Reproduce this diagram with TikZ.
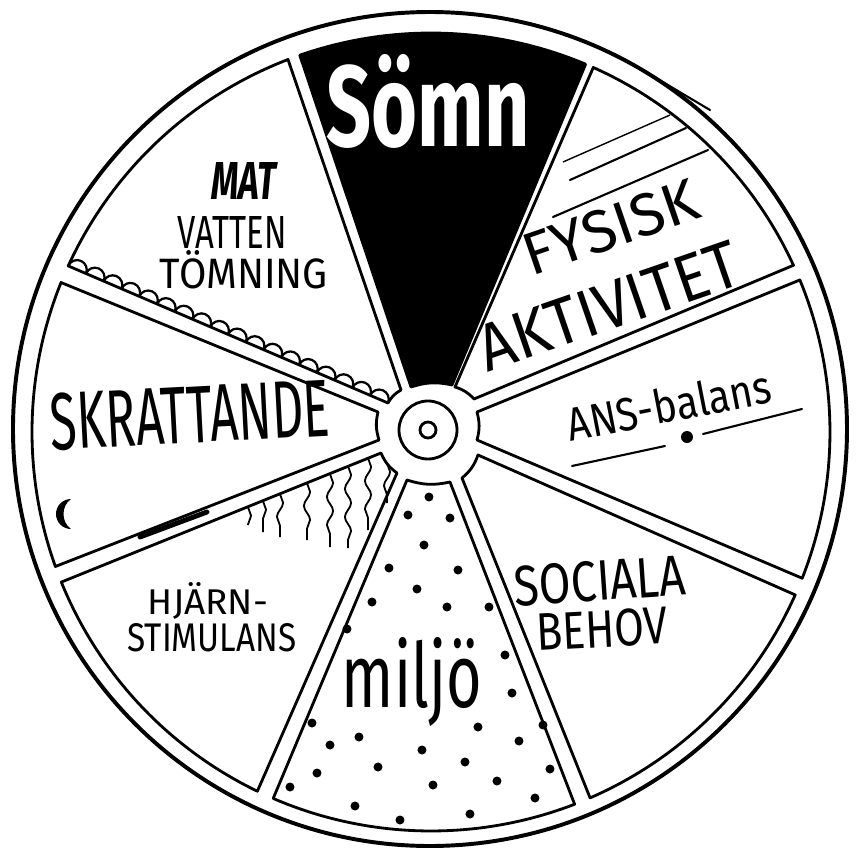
\documentclass[tikz,border=0pt]{standalone}
\usepackage{fontspec}
\setmainfont{Fira Sans}
\usepackage{graphicx}
\usetikzlibrary{calc, decorations.pathmorphing}
\tikzset{
  rimline/.style={line width=2.8pt},
  seg/.style={draw, line width=2pt, line join=round},
  hubline/.style={line width=2pt},
  label/.style={inner sep=0pt, align=center},
  bump/.style={line width=1.6pt},
  wave/.style={line width=1.3pt, decorate, decoration={snake, segment length=20pt, amplitude=2.2pt}},
  stroke/.style={line width=1.5pt, line cap=round}
}
\newcommand{\lbl}[3]{\resizebox{#1}{#2}{#3}}

\begin{document}
\begin{tikzpicture}[x=0.25mm, y=0.25mm]
  \path[fill=white, use as bounding box] (-428,-430) rectangle (428,430);
  \coordinate (rimc) at (3,-2);
  % rim
  \draw[rimline] (2,1) circle[radius=417];
  \draw[stroke] (223,355) -- (282,320);
  % segments, counter-clockwise from the right
  \draw[seg] ($(rimc)+(-21.5:399)$) arc[start angle=-21.5, end angle=22.4, radius=399] -- (49,18) to[bend left=15] (49,-10) -- cycle;
  \draw[seg] ($(rimc)+(24.7:399)$) arc[start angle=24.7, end angle=66, radius=399] -- (27,43) to[bend left=15] (46,31) -- cycle;
  \draw[seg, fill=black] ($(rimc)+(67.2:399)$) arc[start angle=67.2, end angle=109.2, radius=399] -- (-17,43) to[bend left=15] (24,45) -- cycle;
  \draw[seg] ($(rimc)+(111:399)$) arc[start angle=111, end angle=155.4, radius=399] -- (-40,27) to[bend left=15] (-27,40) -- cycle;
  \draw[seg] ($(rimc)+(158:399)$) arc[start angle=158, end angle=199.7, radius=399] -- (-49,-10) to[bend left=15] (-50,18) -- cycle;
  \draw[seg] ($(rimc)+(202.1:399)$) arc[start angle=202.1, end angle=244.2, radius=399] -- (-31,-43) to[bend left=15] (-47,-23) -- cycle;
  \draw[seg] ($(rimc)+(246.7:399)$) arc[start angle=246.7, end angle=291.1, radius=399] -- (22,-52) to[bend left=15] (-21,-50) -- cycle;
  \draw[seg] ($(rimc)+(293.5:399)$) arc[start angle=293.5, end angle=335.9, radius=399] -- (50,-25) to[bend left=15] (34,-48) -- cycle;
  % hub
  \draw[hubline] (0,0) circle[radius=29];
  \draw[hubline] (0,0) circle[radius=8];

  % scallops under MAT
  \coordinate (matA) at ($(rimc)+(155.4:399)$);
  \coordinate (matB) at (-40,27);
  \foreach \k in {0,...,17}
    \draw[bump] ($(matA)!\k/18!(matB)$) arc[start angle=156.8, end angle=-23.2, radius=9.66];

  % lines in FYSISK
  \draw[line width=1pt] (135,268) -- (242,315);
  \draw[stroke] (142,250) -- (258,302);
  \draw[stroke] (125,213) -- (280,280);

  % balance under ANS
  \draw[stroke] (144,-36) -- (237,-16);
  \fill (259,-7) circle[radius=6];
  \draw[stroke] (275,-4) -- (374,21);

  % waves in HJARN
  \foreach \x/\t/\b in {-180/-77/-95, -165/-71/-102, -148/-64/-107, -121/-53/-110,
                        -98/-44/-117, -80/-36/-118, -60/-28/-100, -41/-33/-73}
    \draw[wave] (\x,\t) -- (\x,\b);

  % moon and shadow in SKRATTANDE
  \fill (-357,-69) arc[start angle=90, end angle=270, radius=15] .. controls (-367,-92) and (-367,-76) .. (-357,-69);
  \draw[line width=3.5pt, line cap=round] (-288,-107) -- (-221,-82);

  % dots in MILJO
  \foreach \p in {(1,-67), (-20,-85), (22,-88), (-4,-115), (-39,-138), (30,-140),
                  (-11,-159), (-56,-172), (19,-177), (61,-177), (-81,-199), (77,-225),
                  (84,-263), (-116,-293), (-69,-307), (50,-297), (115,-295), (-98,-315),
                  (-6,-320), (91,-311), (-111,-343), (-50,-337), (37,-332), (122,-339),
                  (-138,-357), (5,-355), (69,-351), (107,-368), (-73,-376), (42,-384), (-28,-390)}
    \fill \p circle[radius=4.5];

  % labels
  \node[label, text=white] (somn) at (0,329) {\lbl{50.75mm}{23mm}{\bfseries Sömn}};
  \node[label, rotate=19] (fysisk) at (183,203) {\lbl{45.5mm}{10.5mm}{FYSISK}};
  \node[label, rotate=19] (aktivitet) at (181,124) {\lbl{68mm}{11.5mm}{AKTIVITET}};
  \node[label, rotate=11] (ans) at (241,25) {\lbl{51.75mm}{8.75mm}{ANS-balans}};
  \node[label, rotate=4] (sociala) at (172,-151) {\lbl{43mm}{10mm}{SOCIALA}};
  \node[label, rotate=3] (behov) at (174,-199) {\lbl{33mm}{9.25mm}{BEHOV}};
  \node[label, anchor=base] (miljo) at (-16,-277) {\lbl{35mm}{17.5mm}{miljö}};
  \node[label] (hjarn) at (-220,-171) {\lbl{30mm}{8mm}{HJÄRN-}};
  \node[label] (stimulans) at (-216,-208) {\lbl{42.25mm}{7mm}{STIMULANS}};
  \node[label, rotate=3] (skrattande) at (-238,15) {\lbl{70mm}{14.25mm}{SKRATTANDE}};
  \node[label] (mat) at (-184,249) {\lbl{16.25mm}{9.25mm}{\bfseries\itshape MAT}};
  \node[label] (vatten) at (-196,198) {\lbl{27.25mm}{8mm}{VATTEN}};
  \node[label] (tomning) at (-184,160) {\lbl{42mm}{9.5mm}{TÖMNING}};
\end{tikzpicture}
\end{document}
